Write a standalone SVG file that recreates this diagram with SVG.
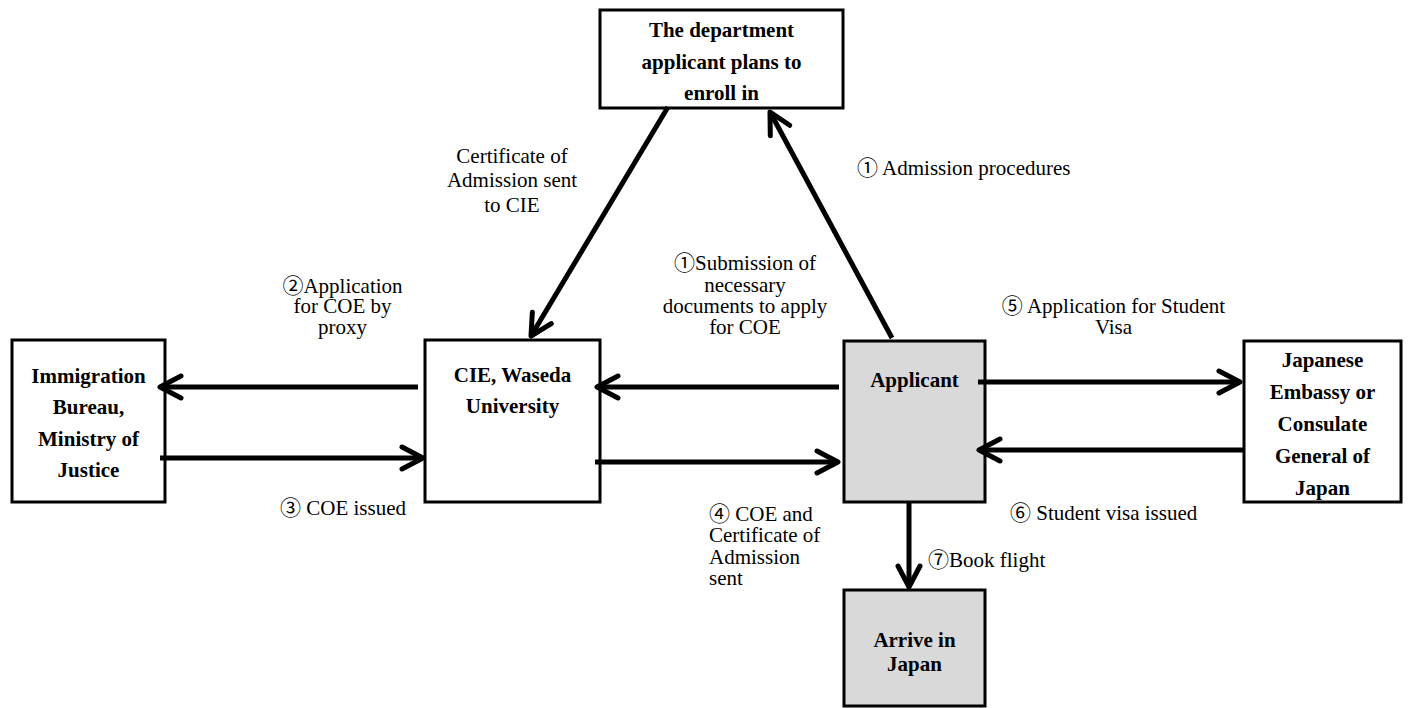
<svg xmlns="http://www.w3.org/2000/svg" width="1408" height="708" viewBox="0 0 1408 708">
<style>
.box{fill:#ffffff;stroke:#000;stroke-width:3}
.grey{fill:#d9d9d9;stroke:#000;stroke-width:3}
.bt{font-family:"Liberation Serif","Times New Roman",serif;font-size:21px;font-weight:bold;text-anchor:middle;fill:#000}
.lt{font-family:"Liberation Serif","Times New Roman",serif;font-size:21px;font-weight:normal;fill:#000}
.c{text-anchor:middle}
.cj{font-family:"Noto Sans CJK JP",sans-serif;font-weight:normal}
.ln{stroke:#000;stroke-width:5;fill:none;marker-end:url(#arr)}
</style>
<defs>
<marker id="arr" markerUnits="userSpaceOnUse" markerWidth="40" markerHeight="40" viewBox="-30 -20 40 40" refX="0" refY="0" orient="auto">
<path d="M -21 -11 L 0 0 L -21 11" fill="none" stroke="#000" stroke-width="5" stroke-linecap="round" stroke-linejoin="round"/>
</marker>
</defs>
<rect width="1408" height="708" fill="#ffffff"/>

<g id="dept">
<rect class="box" x="600" y="10" width="243" height="98"/>
<text class="bt" x="721.5" y="37">The department</text>
<text class="bt" x="721.5" y="68.5">applicant plans to</text>
<text class="bt" x="721.5" y="100">enroll in</text>
</g>

<g id="immigration">
<rect class="box" x="12" y="340" width="153" height="162"/>
<text class="bt" x="88.5" y="383">Immigration</text>
<text class="bt" x="88.5" y="414">Bureau,</text>
<text class="bt" x="88.5" y="445.5">Ministry of</text>
<text class="bt" x="88.5" y="477">Justice</text>
</g>

<g id="cie">
<rect class="box" x="425" y="340" width="175" height="162"/>
<text class="bt" x="512.5" y="382">CIE, Waseda</text>
<text class="bt" x="512.5" y="413">University</text>
</g>

<g id="applicant">
<rect class="grey" x="844" y="341" width="141" height="161"/>
<text class="bt" x="914.5" y="387">Applicant</text>
</g>

<g id="embassy">
<rect class="box" x="1244" y="341" width="157" height="161"/>
<text class="bt" x="1322.5" y="367">Japanese</text>
<text class="bt" x="1322.5" y="398.5">Embassy or</text>
<text class="bt" x="1322.5" y="430.5">Consulate</text>
<text class="bt" x="1322.5" y="463">General of</text>
<text class="bt" x="1322.5" y="495">Japan</text>
</g>

<g id="arrive">
<rect class="grey" x="844" y="590" width="141" height="116"/>
<text class="bt" x="914.5" y="647">Arrive in</text>
<text class="bt" x="914.5" y="671">Japan</text>
</g>

<g id="connectors">
<line class="ln" x1="668" y1="107" x2="531" y2="336"/>
<line class="ln" x1="892" y1="338" x2="770" y2="112"/>
<line class="ln" x1="418" y1="387" x2="160" y2="387"/>
<line class="ln" x1="160" y1="458" x2="423" y2="458"/>
<line class="ln" x1="839" y1="387" x2="597" y2="387"/>
<line class="ln" x1="595" y1="462" x2="838" y2="462"/>
<line class="ln" x1="978" y1="382" x2="1240" y2="382"/>
<line class="ln" x1="1244" y1="450" x2="979" y2="450"/>
<line class="ln" x1="909" y1="502" x2="909" y2="587"/>
</g>

<g id="labels">
<text class="lt c" x="512" y="163">Certificate of</text>
<text class="lt c" x="512" y="187">Admission sent</text>
<text class="lt c" x="512" y="211.5">to CIE</text>
<text class="lt" x="857" y="175"><tspan class="cj">①</tspan> Admission procedures</text>
<text class="lt c" x="745" y="270"><tspan class="cj">①</tspan>Submission of</text>
<text class="lt c" x="745" y="291.5">necessary</text>
<text class="lt c" x="745" y="312.5">documents to apply</text>
<text class="lt c" x="745" y="333.5">for COE</text>
<text class="lt c" x="342.5" y="292.5"><tspan class="cj">②</tspan>Application</text>
<text class="lt c" x="342.5" y="313">for COE by</text>
<text class="lt c" x="342.5" y="333.5">proxy</text>
<text class="lt" x="280" y="515"><tspan class="cj">③</tspan> COE issued</text>
<text class="lt" x="709" y="521"><tspan class="cj">④</tspan> COE and</text>
<text class="lt" x="709" y="542">Certificate of</text>
<text class="lt" x="709" y="563.5">Admission</text>
<text class="lt" x="709" y="585">sent</text>
<text class="lt c" x="1113.5" y="313"><tspan class="cj">⑤</tspan> Application for Student</text>
<text class="lt c" x="1113.5" y="333.5">Visa</text>
<text class="lt" x="1010" y="520"><tspan class="cj">⑥</tspan> Student visa issued</text>
<text class="lt" x="928" y="567"><tspan class="cj">⑦</tspan>Book flight</text>
</g>
</svg>
